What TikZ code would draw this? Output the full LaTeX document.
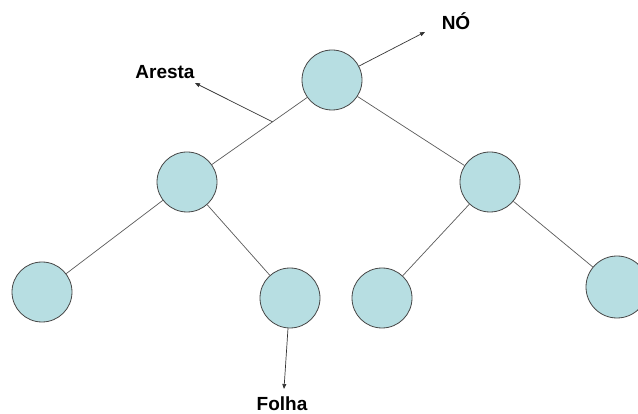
\documentclass[tikz,border=0pt]{standalone}
\usepackage{fontspec}
\setmainfont{Liberation Sans}
\definecolor{nodefill}{RGB}{183,222,226}
\definecolor{nodeline}{RGB}{70,70,70}
\definecolor{edgegray}{RGB}{90,90,90}
\usetikzlibrary{arrows.meta,calc}

\begin{document}
\begin{tikzpicture}[x=1pt,y=-1pt,
    treenode/.style={circle, draw=nodeline, fill=nodefill, line width=0.8pt, minimum size=60pt, inner sep=0pt},
    edge/.style={draw=edgegray, line width=0.7pt},
    pointer/.style={draw=black!80, line width=0.7pt, -{Triangle[length=5pt,width=4pt]}},
    tag/.style={font=\bfseries\fontsize{19}{21}\selectfont}]
    \clip (0,0) rectangle (638,414);
    % the tree
    \node[treenode] (root) at (332,80) {};
    \node[treenode] (lmid) at (187,182) {};
    \node[treenode] (rmid) at (490,182) {};
    \node[treenode] (leafA) at (42,292) {};
    \node[treenode] (leafB) at (290,298) {};
    \node[treenode] (leafC) at (382,298) {};
    \node[treenode, minimum width=62pt, minimum height=62pt] (leafD) at (617,287) {};
    \draw[edge] (root) -- (lmid);
    \draw[edge] (root) -- (rmid);
    \draw[edge] (lmid) -- (leafA);
    \draw[edge] (lmid) -- (leafB);
    \draw[edge] (rmid) -- (leafC);
    \draw[edge] (rmid) -- (leafD);
    % labels
    \node[tag] (noTag) at (456,21) {NÓ};
    \node[tag] (arestaTag) at (165,72) {Aresta};
    \node[tag] (folhaTag) at (282,404) {Folha};
    \coordinate (noTip) at (425,32);
    \coordinate (arestaTip) at (195,83);
    \coordinate (arestaFoot) at ($(root.center)!0.41!(lmid.center)$);
    \coordinate (folhaTip) at (284,389);
    \draw[pointer] (root) -- (noTip);
    \draw[pointer] (arestaFoot) -- (arestaTip);
    \draw[pointer] (leafB) -- (folhaTip);
\end{tikzpicture}
\end{document}
